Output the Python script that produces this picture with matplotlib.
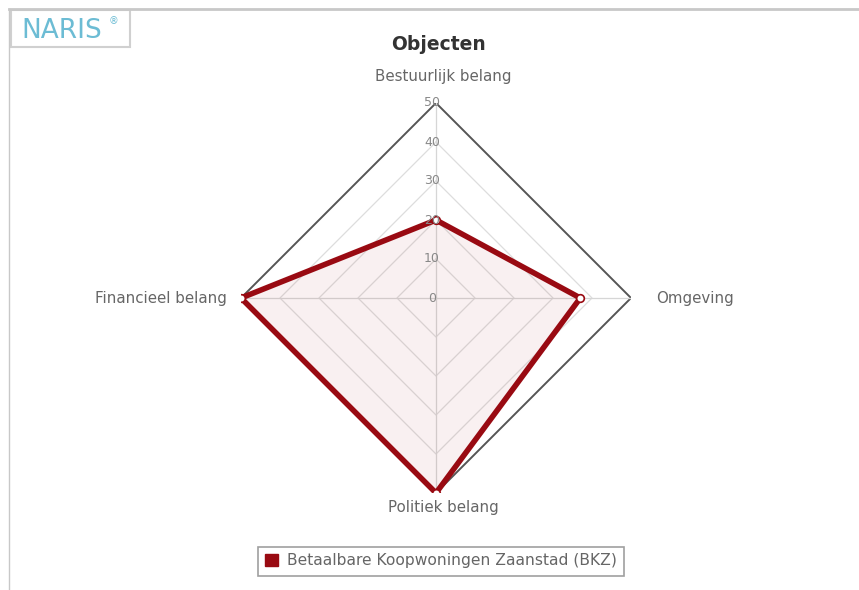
import numpy as np
import matplotlib
matplotlib.use("Agg")
import matplotlib.pyplot as plt
from matplotlib.lines import Line2D
from matplotlib.patches import Rectangle

categories = ["Bestuurlijk belang", "Omgeving", "Politiek belang", "Financieel belang"]
values = [20, 37, 50, 50]
series_name = "Betaalbare Koopwoningen Zaanstad (BKZ)"
rings = [10, 20, 30, 40, 50]
tick_labels = ["0", "10", "20", "30", "40", "50"]

red = "#990a12"
grey_txt = "#666666"

fig = plt.figure(figsize=(8.59, 5.9), dpi=100)
fig.patch.set_facecolor("white")

# page border lines (top and left)
fig.add_artist(Line2D([9 / 859, 1], [1 - 9 / 590, 1 - 9 / 590], color="#c8c8c8", lw=2))
fig.add_artist(Line2D([9 / 859, 9 / 859], [0, 1 - 9 / 590], color="#c8c8c8", lw=1))

# NARIS logo
fig.add_artist(Rectangle((11 / 859, 1 - 47 / 590), 119 / 859, 37 / 590,
                         transform=fig.transFigure, fill=True, facecolor="white",
                         edgecolor="#d0d0d0", lw=1.5))
fig.text(21 / 859, 1 - 31 / 590, "NARIS", color="#6cbcd4", fontsize=19,
         va="center", ha="left")
fig.text(109 / 859, 1 - 21 / 590, "®", color="#6cbcd4", fontsize=7,
         va="center", ha="left")

fig.text(438 / 859, 1 - 44 / 590, "Objecten", fontsize=13.5, fontweight="bold",
         color="#333333", ha="center", va="center")

ax = fig.add_axes([241 / 859, 97 / 590, 390 / 859, 390 / 590], projection="polar")
ax.set_theta_offset(np.pi / 2)
ax.set_theta_direction(-1)
ax.set_ylim(0, 50)
ax.grid(False)
ax.set_xticks([])
ax.set_yticks([])
ax.spines["polar"].set_visible(False)
ax.patch.set_alpha(0)

n = len(categories)
angles = np.arange(n) * 2 * np.pi / n
closed = np.append(angles, angles[0])

# polygon grid
for r in rings:
    col = "#555555" if r == rings[-1] else "#dddddd"
    lw = 1.4 if r == rings[-1] else 0.9
    ax.plot(closed, [r] * (n + 1), color=col, lw=lw, zorder=1)
for a in angles:
    ax.plot([a, a], [0, rings[-1]], color="#d6d6d6", lw=0.9, zorder=1)

# series
vals = np.append(values, values[0])
ax.fill(closed, vals, color=red, alpha=0.06, zorder=2)
ax.plot(closed, vals, color=red, lw=4, zorder=3, solid_joinstyle="miter")
ax.plot(angles, values, "o", ms=5.5, mfc="white", mec=red, mew=1.2, zorder=4)

# radial tick labels
for i, t in enumerate(tick_labels):
    ax.annotate(t, (0, i * 10), xytext=(-3, 0), textcoords="offset points",
                ha="center", va="center", fontsize=9, color="#888888", zorder=5)

# category labels
offsets = [((5, 14), "center", "bottom"), ((18, 0), "left", "center"),
           ((5, -5), "center", "top"), ((-10, 0), "right", "center")]
for a, lab, (off, ha, va) in zip(angles, categories, offsets):
    ax.annotate(lab, (a, rings[-1]), xytext=off, textcoords="offset points",
                ha=ha, va=va, fontsize=10.8, color=grey_txt, annotation_clip=False)

handle = Rectangle((0, 0), 1, 1, facecolor=red, edgecolor=red)
leg = fig.legend([handle], [series_name], loc="center",
                 bbox_to_anchor=(441 / 859, 1 - 561 / 590), fontsize=11.2,
                 frameon=True, fancybox=False, handlelength=0.8, handleheight=0.8,
                 handletextpad=0.6, borderpad=0.45)
leg.get_frame().set_edgecolor("#888888")
leg.get_frame().set_linewidth(1.2)
for t in leg.get_texts():
    t.set_color(grey_txt)

fig.savefig("out.png", dpi=100)
